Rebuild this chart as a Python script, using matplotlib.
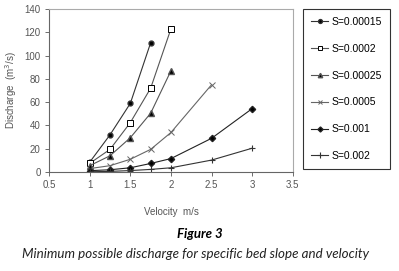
import matplotlib
matplotlib.use("Agg")
import matplotlib.pyplot as plt

# discharge (m3/s) against velocity (m/s) for each bed slope
v_a = [1.0, 1.25, 1.5, 1.75]
q_00015 = [8.5, 32, 59, 111]

v_b = [1.0, 1.25, 1.5, 1.75, 2.0]
q_0002 = [7.5, 19.5, 42.5, 72, 123]
q_00025 = [5.5, 14, 29.5, 50.5, 87]

v_c = [1.0, 1.25, 1.5, 1.75, 2.0, 2.5]
q_0005 = [3, 5.5, 11, 19.5, 34, 75]

v_d = [1.0, 1.25, 1.5, 1.75, 2.0, 2.5, 3.0]
q_001 = [1.2, 2, 3.7, 7.4, 11.6, 29, 54.5]
q_002 = [0.3, 0.6, 1.3, 2.3, 3.7, 10.3, 20.5]

labels = ["S=0.00015", "S=0.0002", "S=0.00025", "S=0.0005", "S=0.001", "S=0.002"]
xticks = [0.5, 1, 1.5, 2, 2.5, 3, 3.5]
yticks = [0, 20, 40, 60, 80, 100, 120, 140]

plt.rcParams['font.family'] = ['Liberation Sans', 'DejaVu Sans']

fig = plt.figure(figsize=(3.99, 2.71), dpi=100)
ax = fig.add_axes([0.123, 0.365, 0.611, 0.602])

series = [
    (v_a, q_00015, dict(marker='o', color='#333333', mfc='black', ms=3.5)),
    (v_b, q_0002, dict(marker='s', color='#555555', mfc='white', mec='black', ms=4, mew=0.7)),
    (v_b, q_00025, dict(marker='^', color='#555555', mfc='black', ms=4)),
    (v_c, q_0005, dict(marker='x', color='#666666', ms=4, mew=0.7)),
    (v_d, q_001, dict(marker='D', color='#222222', mfc='black', ms=3.2)),
    (v_d, q_002, dict(marker='+', color='#333333', ms=5, mew=0.8)),
]
for (x, y, st), lab in zip(series, labels):
    ax.plot(x, y, lw=0.8, label=lab, **st)

ax.set_xlim(0.5, 3.5)
ax.set_ylim(0, 140)
ax.set_xticks(xticks)
ax.set_xticklabels(["0.5", "1", "1.5", "2", "2.5", "3", "3.5"])
ax.set_yticks(yticks)
ax.tick_params(labelsize=7, colors='#555555', length=3, width=0.6, pad=3)
for s in ['top', 'right']:
    ax.spines[s].set_color('#aaaaaa')
    ax.spines[s].set_linewidth(0.8)
for s in ['left', 'bottom']:
    ax.spines[s].set_color('#666666')
    ax.spines[s].set_linewidth(0.8)

ax.set_xlabel("Velocity  m/s", fontsize=7, color='#555555', labelpad=12)
ax.set_ylabel("Discharge  (m$^3$/s)", fontsize=7, color='#555555', labelpad=4)

leg = fig.legend(loc='upper left', bbox_to_anchor=(0.759, 0.967), fontsize=7.5,
                 frameon=True, fancybox=False, edgecolor='black', labelspacing=1.62,
                 handlelength=1.7, handletextpad=0.3, borderpad=0.75, borderaxespad=0,
                 markerscale=0.8)
leg.get_frame().set_linewidth(0.8)

fig.text(0.5, 0.135, "Figure 3", ha='center', va='center', fontsize=9.5,
         family=['Lato', 'DejaVu Sans'], style='italic', weight='bold')
fig.text(0.49, 0.063, "Minimum possible discharge for specific bed slope and velocity",
         ha='center', va='center', fontsize=9.6, family=['Lato', 'DejaVu Sans'],
         style='italic', color='#222222')

fig.savefig("out.png", dpi=100)
